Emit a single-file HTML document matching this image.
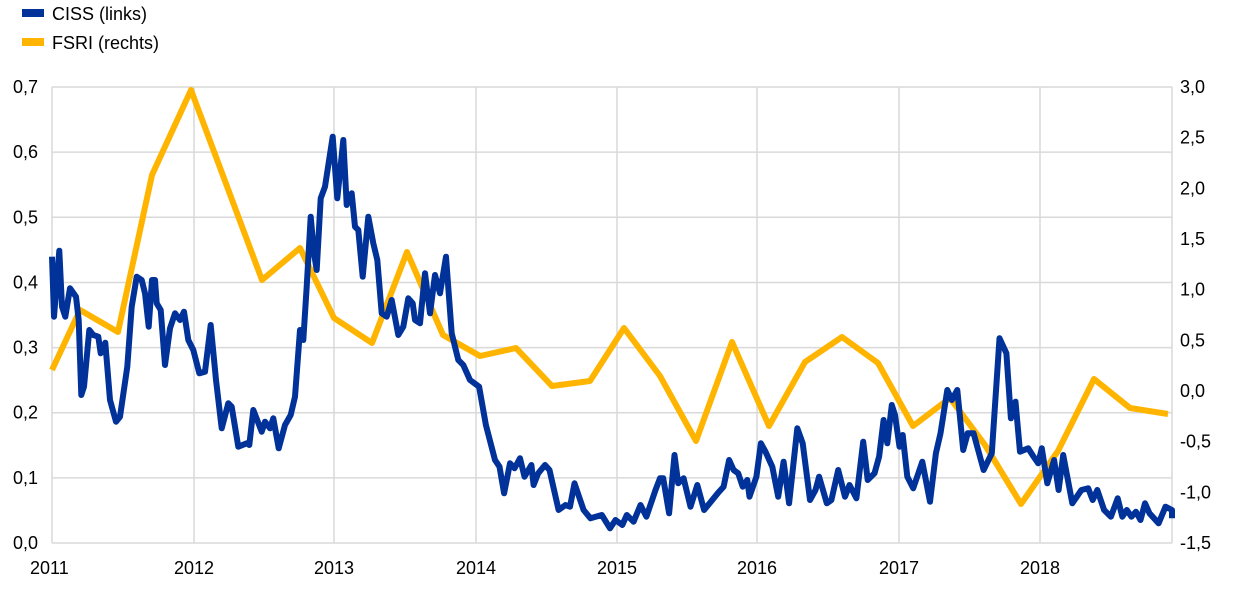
<!DOCTYPE html>
<html><head><meta charset="utf-8"><style>
body{margin:0;background:#fff;}
svg{display:block;font-family:"Liberation Sans",Arial,sans-serif;}
</style></head><body>
<svg id="s" width="1240" height="590" xmlns="http://www.w3.org/2000/svg">
<g stroke="#d9d9d9" stroke-width="1.5" id="grid"></g>
<g font-size="18" fill="#000" id="lab"></g>
<rect x="22" y="9" width="22" height="8" fill="#003299"/>
<text x="52" y="20" font-size="18">CISS (links)</text>
<rect x="22" y="38" width="22" height="8" fill="#FFB400"/>
<text x="52" y="49" font-size="18">FSRI (rechts)</text>
<polyline id="f" fill="none" stroke="#FFB400" stroke-width="6" stroke-linejoin="round"/>
<polyline id="c" fill="none" stroke="#003299" stroke-width="6" stroke-linejoin="round"/>
</svg>
<script>
var NS="http://www.w3.org/2000/svg",g=document.getElementById('grid'),lab=document.getElementById('lab');
function el(p,t,a,tx){var e=document.createElementNS(NS,t);for(var k in a)e.setAttribute(k,a[k]);if(tx)e.textContent=tx;p.appendChild(e);}
var ys=[],yr=[2011,2012,2013,2014,2015,2016,2017,2018],xs=[52,194,334,476,617,757,899,1040];
for(var i=0;i<=7;i++){var y=543-i*65.14;el(g,'line',{x1:52,x2:1172,y1:y,y2:y});
el(lab,'text',{x:38,y:y+6,'text-anchor':'end'},(i/10).toFixed(1).replace('.',','));}
for(var i=0;i<=9;i++){var v=3-i*0.5,y=87+i*50.67;el(lab,'text',{x:1180,y:y+6},(v<0?'-':'')+Math.abs(v).toFixed(1).replace('.',','));}
xs.forEach(function(x,i){el(g,'line',{x1:x,x2:x,y1:87,y2:543});el(lab,'text',{x:i==0?30:x,y:574,'text-anchor':i==0?'start':'middle'},yr[i]);});
el(g,'line',{x1:1172,x2:1172,y1:87,y2:543});
var F=[[52,370],[80,310],[118,332],[152,175],[191,90],[262,280],[300,248],[334,318],[372,343],[407,252],[443,335],[480,356],[516,348],[552,386],[590,381],[624,328],[660,376],[696,441],[732,342],[769,426],[805,362],[842,337],[878,363],[913,426],[950,398],[985,445],[1021,504],[1058,451],[1094,379],[1130,408],[1168,414]];
document.getElementById('f').setAttribute('points',F.map(function(p){return p.join(',')}).join(' '));
var z1=[36,410,42,590,58,392,66,560,76,590,90,505,108,530,116,600,124,825,132,800,148,630,160,645,175,650,182,700,196,668,210,840,228,905,240,890,262,740,275,560,290,470,305,480,315,520,326,620,336,480,345,480,350,550,362,570,375,735,390,625,405,580,420,600,432,575,445,660,460,690,478,760,495,755,512,615,528,780,545,925,565,850,575,860,595,980,620,970,628,975,640,870,665,935,675,905,690,925,700,895,716,985,735,915,752,885,765,830,780,630,790,660,800,500,812,290,822,400,830,450,842,235,855,200,878,50,892,235,910,60,920,255,935,220,945,320,955,330,968,470,985,290,1000,370,1012,420,1025,580,1040,590,1055,540,1075,645,1090,620,1105,535,1118,550,1125,600,1140,610,1155,460,1170,580,1185,465,1200,520,1218,410,1235,640,1255,720,1270,735,1290,780];
var z2=[20,170,35,285,55,390,65,410,75,490,88,400,98,415,110,385,120,440,135,405,140,465,150,430,165,405,175,420,195,540,210,525,220,530,230,460,250,540,265,565,290,555,308,595,320,570,335,585,345,555,360,575,375,525,388,560,408,480,418,445,425,445,438,550,450,375,458,460,470,445,485,530,500,465,515,540,530,515,545,490,558,470,570,390,580,420,590,430,600,470,610,450,615,500,630,440,640,340,650,365,665,410,678,500,690,395,702,520,720,295,732,340,748,510,760,480,768,440,785,520,795,510,810,420,825,500,835,465,850,505,865,335,875,450,890,430,900,380,910,270,918,340,928,225,935,255,945,350,952,315,962,440,975,475,995,395,1012,515,1025,370,1035,310,1050,180,1060,210,1072,180,1085,360,1095,310,1108,310,1130,420,1148,370,1165,25,1180,70,1190,265,1200,215,1210,365,1228,355,1240,380,1250,400,1258,355,1270,460,1285,390,1295,480,1305,375,1325,520,1345,480,1360,475,1370,510,1380,480,1395,540,1410,560,1425,505,1435,560,1445,540,1455,560,1465,545,1475,570,1485,520,1495,550,1515,580,1530,530,1545,540,1555,565];
var P=[];
for(var i=0;i<z1.length;i+=2)P.push([40+z1[i]/3,120+z1[i+1]/3]);
for(var i=0;i<z2.length;i+=2){var x=470+z2[i]/2.2;if(x>1172)x=1172;P.push([x,330+z2[i+1]/3]);}
document.getElementById('c').setAttribute('points',P.map(function(p){return p[0].toFixed(1)+','+p[1].toFixed(1)}).join(' '));
</script>
</body></html>
